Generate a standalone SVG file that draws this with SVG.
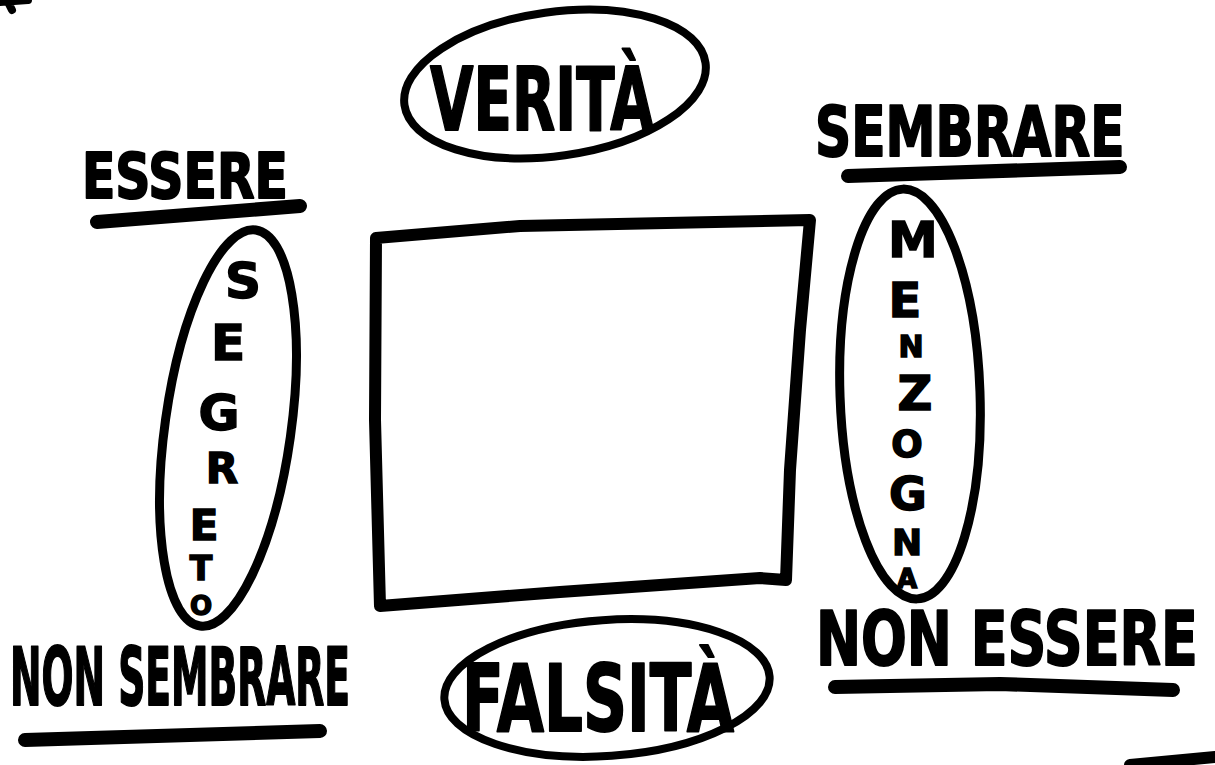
<svg xmlns="http://www.w3.org/2000/svg" width="1215" height="765" viewBox="0 0 1215 765">
<style>
.ln{fill:none;stroke:#000;stroke-linecap:round;stroke-linejoin:round}
.t{font-family:"DejaVu Sans","Liberation Sans",sans-serif;font-weight:bold;fill:#000;stroke:#000;stroke-width:2;stroke-linejoin:round}
.v{font-family:"DejaVu Sans","Liberation Sans",sans-serif;font-weight:bold;fill:#000;stroke:#000;stroke-width:1.5;text-anchor:middle}
</style>
<rect width="1215" height="765" fill="#fff"/>
<g id="connectors">
<path id="square" class="ln" stroke-width="12" d="M376,238 L520,226 L810,220 L800,330 L790,470 L786,580 L760,578 L560,592 L380,606 L375,420 Z"/>
<path class="ln" stroke-width="14" d="M97,222 L300,206"/>
<path class="ln" stroke-width="14" d="M848,176 L1120,167"/>
<path class="ln" stroke-width="14" d="M25,740 L320,731"/>
<path class="ln" stroke-width="14" d="M835,687 L1000,684 L1173,690"/>
<path class="ln" stroke-width="12" d="M1130,765 L1215,757"/>
<path class="ln" stroke-width="8" d="M0,2 L28,0 M8,2 L12,10"/>
</g>
<g id="n-verita">
<ellipse class="ln" stroke-width="8" cx="555" cy="84" rx="152" ry="72" transform="rotate(-8 555 84)"/>
<text class="t" transform="translate(430,130) scale(0.63,1)" font-size="88" textLength="355" lengthAdjust="spacingAndGlyphs">VERITÀ</text>
</g>
<g id="n-essere">
<text class="t" transform="translate(82,198) scale(0.78,1)" font-size="62" textLength="264" lengthAdjust="spacingAndGlyphs">ESSERE</text>
</g>
<g id="n-sembrare">
<text class="t" transform="translate(815,156) scale(0.72,1)" font-size="70" textLength="430" lengthAdjust="spacingAndGlyphs">SEMBRARE</text>
</g>
<g id="n-segreto">
<ellipse class="ln" stroke-width="9" cx="228" cy="428" rx="63" ry="200" transform="rotate(8 228 428)"/>
<text class="v" x="243" y="298" font-size="50">S</text>
<text class="v" x="228" y="360" font-size="50">E</text>
<text class="v" x="219" y="430" font-size="50">G</text>
<text class="v" x="222" y="483" font-size="42">R</text>
<text class="v" x="204" y="540" font-size="42">E</text>
<text class="v" x="201" y="580" font-size="33">T</text>
<text class="v" x="201" y="615" font-size="26">O</text>
</g>
<g id="n-menzogna">
<ellipse class="ln" stroke-width="9" cx="910" cy="394" rx="70" ry="205" transform="rotate(-2 910 394)"/>
<text class="v" x="913" y="257" font-size="50">M</text>
<text class="v" x="905" y="317" font-size="48">E</text>
<text class="v" x="911" y="357" font-size="30">N</text>
<text class="v" x="915" y="410" font-size="48">Z</text>
<text class="v" x="907" y="457" font-size="37">O</text>
<text class="v" x="908" y="510" font-size="46">G</text>
<text class="v" x="907" y="555" font-size="36">N</text>
<text class="v" x="907" y="588" font-size="26">A</text>
</g>
<g id="n-nonsembrare">
<text class="t" transform="translate(10,705) scale(0.475,1)" font-size="80" textLength="716" lengthAdjust="spacingAndGlyphs">NON SEMBRARE</text>
</g>
<g id="n-falsita">
<ellipse class="ln" stroke-width="8" cx="607" cy="688" rx="163" ry="68" transform="rotate(-4 607 688)"/>
<text class="t" transform="translate(462,731) scale(0.645,1)" font-size="92" textLength="422" lengthAdjust="spacingAndGlyphs">FALSITÀ</text>
</g>
<g id="n-nonessere">
<text class="t" transform="translate(816,665) scale(0.723,1)" font-size="74" textLength="528" lengthAdjust="spacingAndGlyphs">NON ESSERE</text>
</g>
</svg>
